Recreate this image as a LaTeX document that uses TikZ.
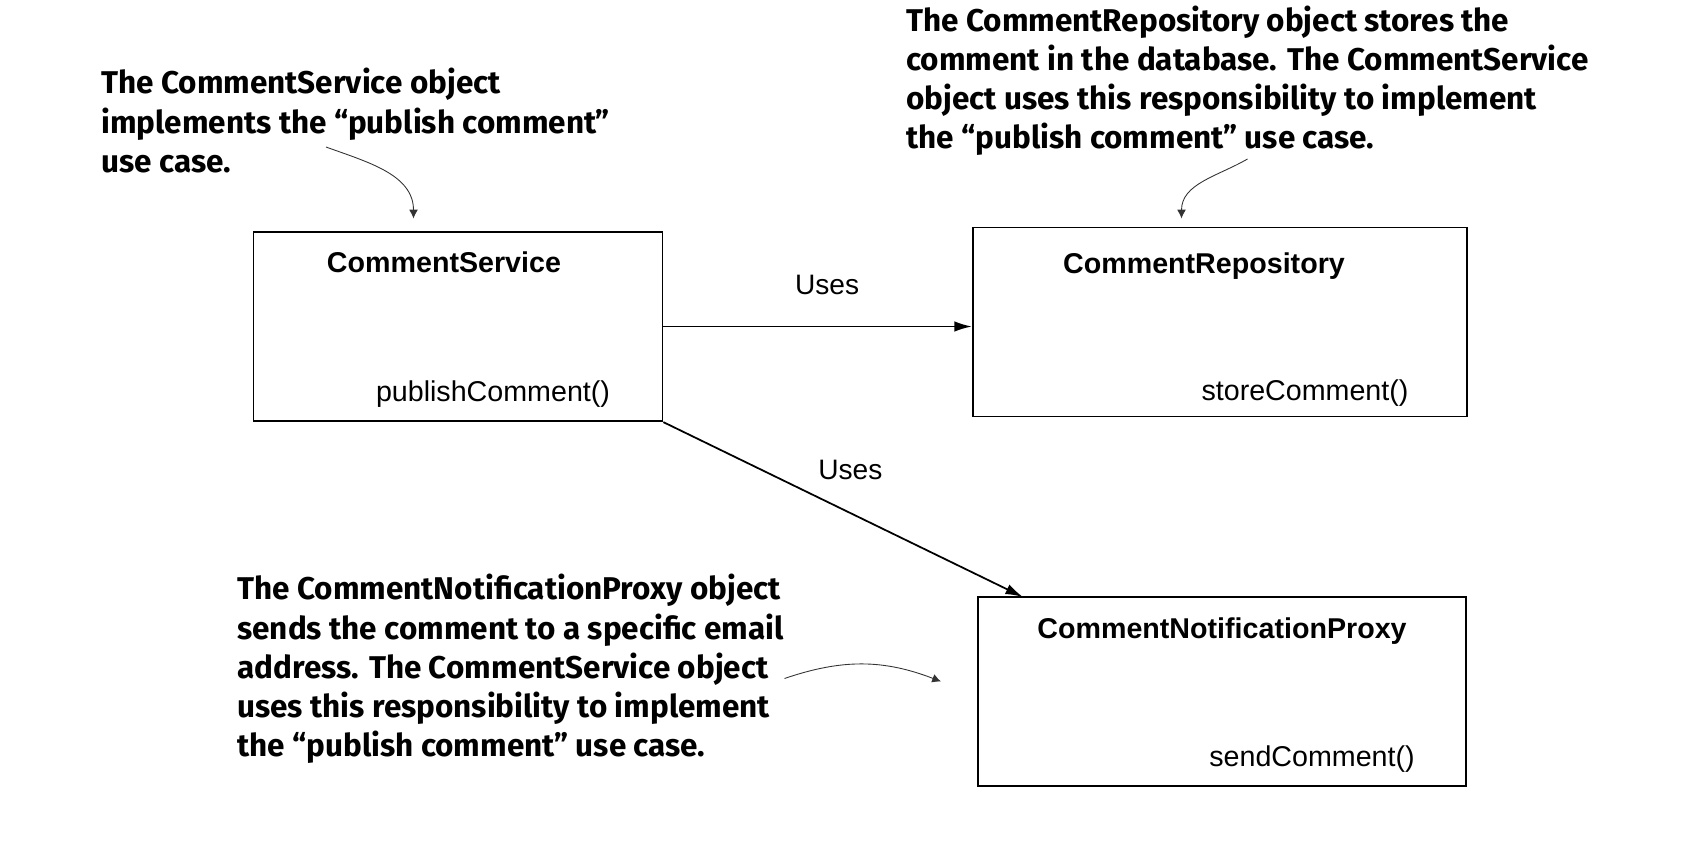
\documentclass[tikz,border=0pt]{standalone}
\usepackage{fontspec}
\setmainfont{Liberation Sans}
\newfontfamily\notefont{Fira Sans}
\usetikzlibrary{arrows.meta}

\begin{document}
\begin{tikzpicture}
\tikzstyle{class}=[draw, line width=1pt, inner sep=0pt]
\tikzstyle{title}=[anchor=base, font=\fontsize{16.3}{19}\selectfont\bfseries]
\tikzstyle{method}=[anchor=base, font=\fontsize{16.3}{19}\selectfont]
\tikzstyle{label}=[font=\fontsize{16}{19}\selectfont]
\tikzstyle{note}=[anchor=north west, inner sep=0pt, align=left, font=\notefont\fontsize{17.9}{22.3}\selectfont\bfseries]
\tikzstyle{uses}=[->, >={Latex[length=10pt,width=6pt]}, line width=1pt]
\tikzstyle{callout}=[->, >={Latex[length=5pt,width=5pt]}, line width=0.5pt, black!80]
    \useasboundingbox (0,0) rectangle (34.12,-17.12);
    % classes
    \node[class, minimum width=8.18cm, minimum height=3.79cm] (svc) at (9.16,-6.53) {};
    \node[class, minimum width=9.89cm, minimum height=3.78cm] (repo) at (24.40,-6.44) {};
    \node[class, minimum width=9.75cm, minimum height=3.78cm] (proxy) at (24.44,-13.83) {};
    \node[title] (svc-title) at (8.88,-5.45) {CommentService};
    \node[title] (repo-title) at (24.08,-5.47) {CommentRepository};
    \node[title] (proxy-title) at (24.44,-12.77) {CommentNotificationProxy};
    \node[method] (svc-method) at (9.86,-8.03) {publishComment()};
    \node[method] (repo-method) at (26.10,-8.00) {storeComment()};
    \node[method] (proxy-method) at (26.24,-15.33) {sendComment()};
    % notes
    \node[note] (svc-note) at (2.02,-1.36) {The CommentService object\\implements the “publish comment”\\use case.};
    \node[note] (repo-note) at (18.12,-0.11) {The CommentRepository object stores the\\comment in the database. The CommentService\\object uses this responsibility to implement\\the “publish comment” use case.};
    \node[note] (proxy-note) at (4.74,-11.48) {The CommentNotificationProxy object\\sends the comment to a specific email\\address. The CommentService object\\uses this responsibility to implement\\the “publish comment” use case.};
    \coordinate (svc-tail) at (6.52,-2.94);
    \coordinate (svc-tip) at (8.27,-4.37);
    \coordinate (repo-tail) at (24.95,-3.18);
    \coordinate (repo-tip) at (23.63,-4.37);
    \coordinate (proxy-tail) at (15.69,-13.57);
    \coordinate (proxy-tip) at (18.82,-13.63);
    \coordinate (proxy-in) at (20.46,-11.94);
    % uses
    \draw [uses] (svc.east) -- (svc.east -| repo.west) node [label,midway,above=14pt,xshift=0.19cm] (uses-repo) {Uses};
    \draw [uses] (svc.south east) -- (proxy-in) node [label,pos=0.52,above=15pt] (uses-proxy) {Uses};
    \draw [callout] (svc-tail) to [out=-20,in=90] (svc-tip);
    \draw [callout] (repo-tail) to [out=210,in=90] (repo-tip);
    \draw [callout] (proxy-tail) to [bend left=20] (proxy-tip);
\end{tikzpicture}
\end{document}
